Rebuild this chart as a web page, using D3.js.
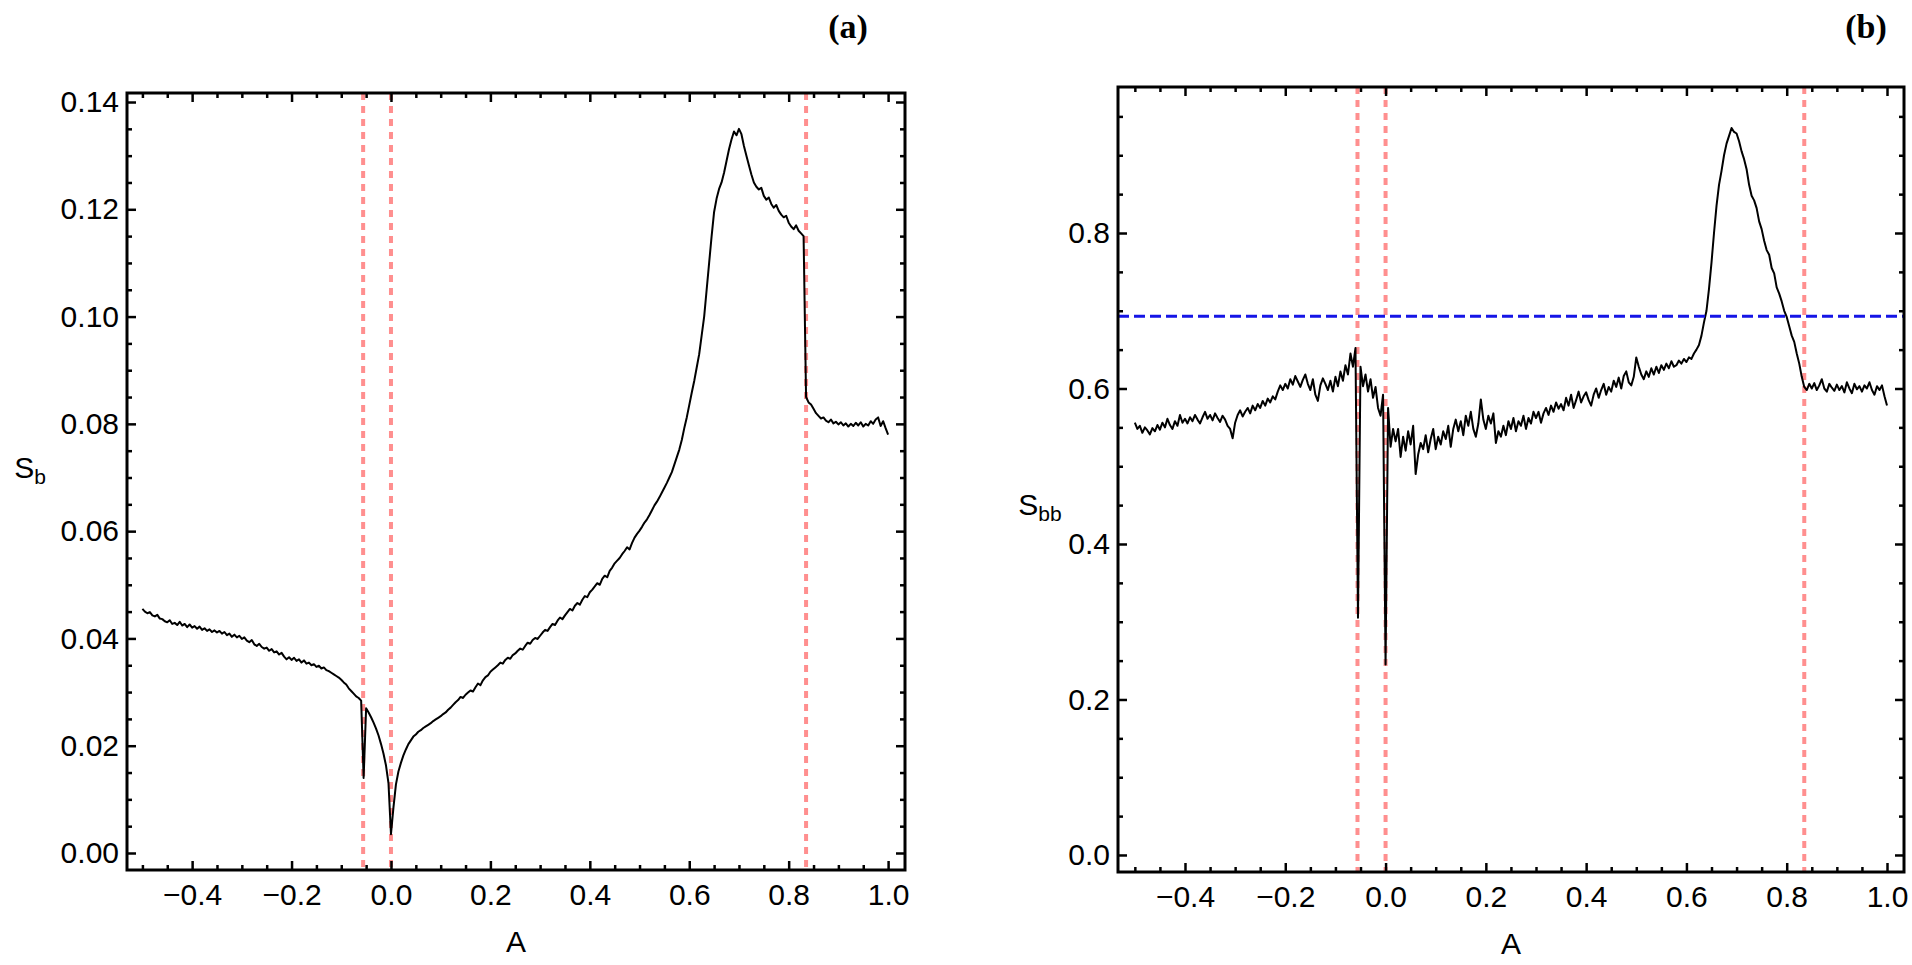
<!DOCTYPE html>
<html><head><meta charset="utf-8">
<script src="https://cdn.jsdelivr.net/npm/d3@7"></script>
<style>body{margin:0;background:#fff} svg{display:block}</style>
</head><body>
<svg id="chart" width="1912" height="965"></svg>
<script>
// ---------- data ----------
// A grid: -0.500 .. 1.000, step 0.005 (301 samples)
const A_start = -0.5, A_step = 0.005;
// panel (a): S_b at each A of the grid
const S_b = [
0.0455,0.0450,0.0447,0.0449,0.0443,0.0441,0.0444,0.0437,0.0436,0.0432,
0.0430,0.0434,0.0427,0.0429,0.0425,0.0431,0.0424,0.0427,0.0421,0.0426,
0.0420,0.0423,0.0418,0.0422,0.0416,0.0419,0.0414,0.0417,0.0412,0.0415,
0.0411,0.0414,0.0409,0.0412,0.0406,0.0409,0.0403,0.0407,0.0402,0.0405,
0.0399,0.0402,0.0396,0.0393,0.0397,0.0389,0.0386,0.0390,0.0384,0.0381,
0.0383,0.0377,0.0380,0.0374,0.0376,0.0370,0.0373,0.0366,0.0361,0.0365,
0.0360,0.0364,0.0358,0.0361,0.0355,0.0359,0.0353,0.0355,0.0350,0.0352,
0.0347,0.0349,0.0344,0.0346,0.0341,0.0339,0.0336,0.0333,0.0330,0.0327,
0.0323,0.0318,0.0314,0.0307,0.0302,0.0297,0.0292,0.0289,0.0284,0.0140,
0.0270,0.0262,0.0253,0.0243,0.0232,0.0219,0.0203,0.0185,0.0163,0.0130,
0.0035,0.0085,0.0128,0.0152,0.0168,0.0182,0.0193,0.0203,0.0210,0.0217,
0.0221,0.0226,0.0229,0.0233,0.0236,0.0239,0.0242,0.0246,0.0249,0.0252,
0.0255,0.0259,0.0262,0.0267,0.0271,0.0276,0.0281,0.0285,0.0291,0.0289,
0.0295,0.0299,0.0303,0.0301,0.0309,0.0316,0.0313,0.0322,0.0328,0.0331,
0.0338,0.0342,0.0346,0.0350,0.0355,0.0353,0.0360,0.0364,0.0362,0.0369,
0.0372,0.0377,0.0381,0.0379,0.0386,0.0392,0.0390,0.0397,0.0401,0.0399,
0.0405,0.0411,0.0416,0.0414,0.0421,0.0427,0.0425,0.0433,0.0439,0.0436,
0.0443,0.0449,0.0455,0.0452,0.0461,0.0466,0.0463,0.0472,0.0479,0.0477,
0.0486,0.0491,0.0497,0.0503,0.0500,0.0511,0.0517,0.0514,0.0526,0.0532,
0.0540,0.0545,0.0550,0.0557,0.0563,0.0570,0.0566,0.0578,0.0588,0.0595,
0.0601,0.0608,0.0616,0.0622,0.0630,0.0639,0.0648,0.0655,0.0663,0.0672,
0.0681,0.0690,0.0700,0.0710,0.0724,0.0738,0.0752,0.0770,0.0792,0.0812,
0.0835,0.0858,0.0880,0.0905,0.0930,0.0965,0.1000,0.1050,0.1100,0.1150,
0.1195,0.1220,0.1238,0.1250,0.1268,0.1290,0.1312,0.1330,0.1345,0.1338,
0.1350,0.1340,0.1318,0.1300,0.1282,0.1265,0.1250,0.1242,0.1237,0.1240,
0.1225,0.1218,0.1222,0.1210,0.1203,0.1208,0.1197,0.1190,0.1185,0.1188,
0.1175,0.1168,0.1163,0.1170,0.1160,0.1155,0.1150,0.0850,0.0840,0.0836,
0.0828,0.0820,0.0815,0.0810,0.0812,0.0806,0.0803,0.0808,0.0801,0.0804,
0.0799,0.0803,0.0797,0.0801,0.0795,0.0800,0.0796,0.0802,0.0797,0.0803,
0.0795,0.0800,0.0797,0.0805,0.0800,0.0808,0.0812,0.0796,0.0805,0.0792,
0.0780];
// panel (b): S_bb at each A of the grid
const S_bb = [
0.556,0.548,0.552,0.543,0.550,0.546,0.541,0.549,0.545,0.553,
0.547,0.556,0.550,0.561,0.553,0.548,0.558,0.552,0.566,0.556,
0.561,0.555,0.563,0.558,0.566,0.560,0.555,0.563,0.570,0.561,
0.566,0.559,0.568,0.562,0.557,0.565,0.560,0.552,0.548,0.536,
0.556,0.566,0.572,0.564,0.570,0.575,0.568,0.578,0.572,0.580,
0.575,0.584,0.578,0.587,0.582,0.590,0.586,0.596,0.604,0.598,
0.606,0.600,0.612,0.605,0.616,0.609,0.602,0.611,0.618,0.606,
0.598,0.612,0.592,0.584,0.604,0.613,0.606,0.598,0.610,0.596,
0.615,0.603,0.622,0.610,0.630,0.618,0.645,0.628,0.652,0.305,
0.628,0.603,0.618,0.596,0.612,0.588,0.602,0.575,0.565,0.592,
0.245,0.575,0.525,0.548,0.532,0.548,0.512,0.538,0.520,0.545,
0.528,0.552,0.490,0.515,0.530,0.522,0.540,0.518,0.535,0.548,
0.522,0.538,0.528,0.545,0.535,0.552,0.525,0.548,0.560,0.545,
0.558,0.540,0.565,0.552,0.570,0.548,0.538,0.555,0.586,0.560,
0.548,0.565,0.555,0.568,0.530,0.545,0.538,0.552,0.540,0.558,
0.548,0.562,0.545,0.558,0.552,0.565,0.548,0.562,0.555,0.570,
0.562,0.570,0.556,0.568,0.575,0.566,0.578,0.570,0.582,0.574,
0.580,0.572,0.588,0.578,0.592,0.575,0.585,0.596,0.582,0.590,
0.595,0.585,0.578,0.592,0.600,0.588,0.598,0.606,0.592,0.602,
0.596,0.610,0.602,0.614,0.600,0.616,0.622,0.608,0.604,0.615,
0.640,0.628,0.618,0.612,0.622,0.615,0.626,0.618,0.628,0.620,
0.630,0.624,0.632,0.626,0.635,0.628,0.630,0.636,0.632,0.638,
0.634,0.640,0.638,0.645,0.650,0.656,0.668,0.685,0.700,0.728,
0.762,0.800,0.835,0.862,0.880,0.900,0.915,0.925,0.935,0.930,
0.928,0.918,0.905,0.895,0.882,0.862,0.848,0.842,0.832,0.815,
0.805,0.790,0.778,0.772,0.755,0.748,0.730,0.722,0.712,0.700,
0.692,0.680,0.668,0.660,0.645,0.632,0.615,0.602,0.598,0.606,
0.600,0.607,0.598,0.604,0.612,0.600,0.596,0.606,0.601,0.597,
0.605,0.598,0.603,0.595,0.608,0.600,0.594,0.606,0.599,0.603,
0.596,0.604,0.600,0.608,0.598,0.592,0.603,0.598,0.604,0.590,
0.578];

const xTicks = [-0.4,-0.2,0.0,0.2,0.4,0.6,0.8,1.0];
const xTickLabels = ["\u22120.4","\u22120.2","0.0","0.2","0.4","0.6","0.8","1.0"];
const yTicksA = [0.00,0.02,0.04,0.06,0.08,0.10,0.12,0.14];
const yTickLabelsA = ["0.00","0.02","0.04","0.06","0.08","0.10","0.12","0.14"];
const yTicksB = [0.0,0.2,0.4,0.6,0.8];
const yTickLabelsB = ["0.0","0.2","0.4","0.6","0.8"];
const redLines = [-0.056, 0.0, 0.835];
const blueLineB = [0.693];

// ---------- drawing ----------
const svg = d3.select("#chart");
const A_grid = S_b.map((_, i) => +(A_start + i * A_step).toFixed(4));

function range(a, b, step){ const out=[]; for(let v=a; v<=b+1e-9; v+=step) out.push(+v.toFixed(6)); return out; }
function notMajor(step){ return v => Math.abs(v/step - Math.round(v/step)) > 1e-6; }

function panel(o){
  const x = d3.scaleLinear().domain(o.xDomain).range([o.left, o.right]);
  const y = d3.scaleLinear().domain(o.yDomain).range([o.bottom, o.top]);
  const g = svg.append("g");
  const clipId = "clip" + o.id;
  g.append("clipPath").attr("id", clipId).append("rect")
    .attr("x", o.left).attr("y", o.top).attr("width", o.right-o.left).attr("height", o.bottom-o.top);
  const plot = g.append("g").attr("clip-path", `url(#${clipId})`);

  plot.selectAll("line.red").data(o.red).join("line").attr("class","red")
    .attr("x1", d=>x(d)).attr("x2", d=>x(d)).attr("y1", o.top).attr("y2", o.bottom)
    .attr("stroke", "#ff8f8f").attr("stroke-width", 4).attr("stroke-dasharray", "7,6");

  const pts = o.xs.map((a,i)=>[a, o.ys[i]]);
  plot.append("path").datum(pts)
    .attr("d", d3.line().x(d=>x(d[0])).y(d=>y(d[1])))
    .attr("fill","none").attr("stroke","#000").attr("stroke-width",2).attr("stroke-linejoin","round");

  plot.selectAll("line.blue").data(o.blue || []).join("line").attr("class","blue")
    .attr("x1", o.left).attr("x2", o.right).attr("y1", d=>y(d)).attr("y2", d=>y(d))
    .attr("stroke", "#1515e6").attr("stroke-width", 3).attr("stroke-dasharray", "11,5");

  const font = "Liberation Sans, Arial, sans-serif";
  const major = 9, minor = 5;
  g.append("g").attr("transform", `translate(0,${o.bottom})`)
    .call(d3.axisBottom(x).tickValues(o.xTicks).tickFormat((d,i)=>o.xLabels[i]).tickSize(-major).tickPadding(14));
  g.append("g").attr("transform", `translate(0,${o.bottom})`)
    .call(d3.axisBottom(x).tickValues(o.xMinor).tickFormat("").tickSize(-minor));
  g.append("g").attr("transform", `translate(0,${o.top})`)
    .call(d3.axisTop(x).tickValues(o.xTicks).tickFormat("").tickSize(-major));
  g.append("g").attr("transform", `translate(0,${o.top})`)
    .call(d3.axisTop(x).tickValues(o.xMinor).tickFormat("").tickSize(-minor));
  g.append("g").attr("transform", `translate(${o.left},0)`)
    .call(d3.axisLeft(y).tickValues(o.yTicks).tickFormat((d,i)=>o.yLabels[i]).tickSize(-major).tickPadding(8));
  g.append("g").attr("transform", `translate(${o.left},0)`)
    .call(d3.axisLeft(y).tickValues(o.yMinor).tickFormat("").tickSize(-minor));
  g.append("g").attr("transform", `translate(${o.right},0)`)
    .call(d3.axisRight(y).tickValues(o.yTicks).tickFormat("").tickSize(-major));
  g.append("g").attr("transform", `translate(${o.right},0)`)
    .call(d3.axisRight(y).tickValues(o.yMinor).tickFormat("").tickSize(-minor));

  g.selectAll(".domain").remove();
  g.selectAll(".tick line").attr("stroke","#000").attr("stroke-width",2.5);
  g.selectAll(".tick text").attr("fill","#000").style("font-family", font).style("font-size","30px");

  g.append("rect").attr("x", o.left).attr("y", o.top).attr("width", o.right-o.left).attr("height", o.bottom-o.top)
    .attr("fill","none").attr("stroke","#000").attr("stroke-width",3);

  g.append("text").attr("x", (o.left+o.right)/2).attr("y", o.xLabelY).attr("text-anchor","middle")
    .style("font-family", font).style("font-size","30px").text("A");
  const yl = g.append("text").attr("x", o.yLabelX).attr("y", o.yLabelY).attr("text-anchor","middle")
    .style("font-family", font).style("font-size","30px");
  yl.append("tspan").text("S");
  yl.append("tspan").attr("dy", 6).style("font-size","21px").text(o.sub);

  g.append("text").attr("x", o.tagX).attr("y", o.tagY).attr("text-anchor","middle")
    .style("font-family","Liberation Serif, DejaVu Serif, serif").style("font-weight","bold").style("font-size","34px")
    .text(o.tag);
}

panel({
  id:"a", left:127, right:905, top:93, bottom:870,
  xDomain:[-0.531, 1.034], yDomain:[-0.00317, 0.14168],
  xs:A_grid, ys:S_b, red:redLines, blue:[],
  xTicks, xLabels:xTickLabels, xMinor: range(-0.5, 1.0, 0.05).filter(notMajor(0.2)),
  yTicks:yTicksA, yLabels:yTickLabelsA, yMinor: range(0, 0.14, 0.005).filter(notMajor(0.02)),
  sub:"b", xLabelY:952, yLabelX:30, yLabelY:478, tag:"(a)", tagX:848, tagY:38
});

panel({
  id:"b", left:1118, right:1904, top:87, bottom:872,
  xDomain:[-0.5336, 1.0339], yDomain:[-0.0219, 0.9878],
  xs:A_grid, ys:S_bb, red:redLines, blue:blueLineB,
  xTicks, xLabels:xTickLabels, xMinor: range(-0.5, 1.0, 0.05).filter(notMajor(0.2)),
  yTicks:yTicksB, yLabels:yTickLabelsB, yMinor: range(0, 0.95, 0.05).filter(notMajor(0.2)),
  sub:"bb", xLabelY:954, yLabelX:1040, yLabelY:515, tag:"(b)", tagX:1866, tagY:38
});
</script>
</body></html>
